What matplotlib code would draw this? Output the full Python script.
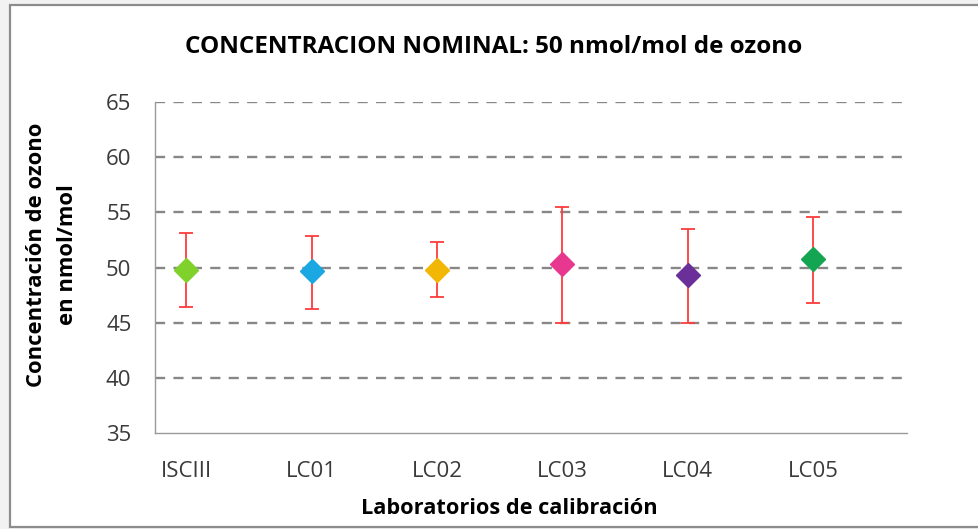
import numpy as np
import matplotlib
matplotlib.use("Agg")
import matplotlib.pyplot as plt
from matplotlib.patches import Rectangle

# --- Datos ---
labs = ["ISCIII", "LC01", "LC02", "LC03", "LC04", "LC05"]
valor = [49.8, 49.7, 49.8, 50.35, 49.3, 50.8]
sup = [53.1, 52.85, 52.3, 55.5, 53.5, 54.6]     # extremo superior de la barra
inf = [46.45, 46.2, 47.3, 44.95, 44.95, 46.8]    # extremo inferior de la barra
colores = ["#80d12b", "#1ba8e2", "#f2b705", "#e8378f", "#6b2f99", "#13a552"]
yticks = [35, 40, 45, 50, 55, 60, 65]

plt.rcParams["font.family"] = ["Open Sans", "DejaVu Sans"]

fig = plt.figure(figsize=(9.79, 5.29), dpi=100)
fig.patch.set_facecolor("#f2f2f2")
# marco del área del gráfico
fig.patches.append(Rectangle((10 / 979, 2 / 529), 1.0, 522 / 529, transform=fig.transFigure,
                             facecolor="white", edgecolor="#8c8c8c", lw=1.6, zorder=-1))

ax = fig.add_axes([155 / 979, 1 - 433 / 529, 752 / 979, 331 / 529])
ax.set_facecolor("white")

x = np.arange(1, len(labs) + 1)
err = [np.array(valor) - np.array(inf), np.array(sup) - np.array(valor)]
ax.errorbar(x, valor, yerr=err, fmt="none", ecolor="#ff3b3b", elinewidth=1.3,
            capsize=4.8, capthick=1.3, zorder=3)
for xi, v, c in zip(x, valor, colores):
    ax.plot(xi, v, marker="D", markersize=12, color=c, markeredgecolor=c,
            linestyle="none", zorder=4)

ax.set_xlim(0.75, 6.75)
ax.set_ylim(35, 65)
ax.set_yticks(yticks)
ax.set_xticks(x)
ax.set_xticklabels(labs)
for yv in yticks[1:]:
    ax.axhline(yv, color="#878787", lw=1.7, linestyle=(0, (4.3, 3.5)), zorder=1)

for s in ["top", "right"]:
    ax.spines[s].set_visible(False)
for s in ["left", "bottom"]:
    ax.spines[s].set_color("#9a9a9a")
    ax.spines[s].set_linewidth(1.0)
ax.tick_params(axis="y", length=0, pad=17, labelsize=16, labelcolor="#3a3a3a")
ax.tick_params(axis="x", length=0, pad=20, labelsize=16, labelcolor="#3a3a3a")

fig.text(494 / 979, 1 - 47 / 529, "CONCENTRACION NOMINAL: 50 nmol/mol de ozono",
         ha="center", va="center", fontsize=17.5, fontweight="bold", color="black")
fig.text(509 / 979, 1 - 509 / 529, "Laboratorios de calibración",
         ha="center", va="center", fontsize=15.7, fontweight="bold", color="black")
fig.text(52 / 979, 1 - 255 / 529, "Concentración de ozono\nen nmol/mol",
         ha="center", va="center", rotation=90, multialignment="center",
         fontsize=15.8, fontweight="bold", color="black", linespacing=1.6)

fig.savefig("out.png", dpi=100, facecolor=fig.get_facecolor())
